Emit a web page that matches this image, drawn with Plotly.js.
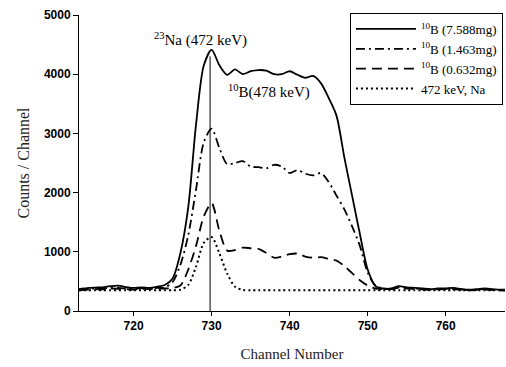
<!DOCTYPE html>
<html>
<head>
<meta charset="utf-8">
<script src="https://cdn.plot.ly/plotly-3.0.1.min.js"></script>
<style>html,body{margin:0;padding:0;background:#fff;}#chart{width:506px;height:367px;}</style>
</head>
<body>
<div id="chart"></div>
<script>
const channels = [713,714,715,716,717,718,719,720,721,722,723,724,725,726,727,728,729,730,731,732,733,734,735,736,737,738,739,740,741,742,743,744,745,746,747,748,749,750,751,752,753,754,755,756,757,758,759,760,761,762,763,764,765,766,767,768];
const b7588 = [370,385,395,400,420,430,405,390,400,390,410,440,550,980,1750,3150,4150,4410,4150,3990,4080,4000,4050,4070,4060,4000,4000,4050,3990,3940,3970,3850,3600,3300,2600,1950,1300,700,420,380,380,420,400,390,380,370,380,380,390,370,360,370,380,370,360,360];
const b1463 = [360,370,380,375,395,390,380,370,385,380,390,400,490,780,1280,2050,2850,3080,2750,2480,2500,2530,2440,2430,2410,2470,2440,2330,2380,2320,2290,2330,2180,1950,1720,1430,1100,650,430,380,370,400,390,380,370,360,370,375,380,365,355,360,370,360,350,350];
const b0632 = [350,360,370,365,380,375,370,360,375,370,380,380,390,430,700,1100,1600,1820,1350,1020,1030,1070,1060,1050,980,900,920,960,970,920,900,910,880,850,760,640,520,430,380,370,370,390,380,370,365,360,365,370,370,360,350,355,360,355,350,350];
const na472 = [350,350,350,350,350,350,350,350,350,350,350,350,350,360,440,750,1150,1250,970,630,410,355,350,350,350,350,350,350,350,350,350,350,350,350,350,350,350,350,350,350,350,350,350,350,350,350,350,350,350,350,350,350,350,350,350,350];
const seriesNames = ['<sup>10</sup>B (7.588mg)','<sup>10</sup>B (1.463mg)','<sup>10</sup>B (0.632mg)','472 keV, Na'];
const xTicks = [720,730,740,750,760];
const yTicks = [0,1000,2000,3000,4000,5000];
const naPeakChannel = 729.8;
const naPeakTop = 4300;

const serif = 'Liberation Serif, Times New Roman, serif';
const sans = 'Liberation Sans, Arial, sans-serif';

const traces = [
  {x: channels, y: b7588, name: seriesNames[0], mode:'lines', line:{color:'#000', width:1.8, dash:'solid', shape:'spline', smoothing:0.8}},
  {x: channels, y: b1463, name: seriesNames[1], mode:'lines', line:{color:'#000', width:1.8, dash:'9px,4px,2px,4px', shape:'spline', smoothing:0.8}},
  {x: channels, y: b0632, name: seriesNames[2], mode:'lines', line:{color:'#000', width:1.8, dash:'10px,6px', shape:'spline', smoothing:0.8}},
  {x: channels, y: na472, name: seriesNames[3], mode:'lines', line:{color:'#000', width:2, dash:'2px,3px', shape:'spline', smoothing:0.8}}
];

const layout = {
  width: 506, height: 367,
  margin: {l:79, r:1, t:15, b:56},
  paper_bgcolor:'#fff', plot_bgcolor:'#fff',
  font: {family: serif, size: 13, color:'#000', weight: 400},
  showlegend: true,
  legend: {
    x: 0.636, y: 1.007, xanchor:'left', yanchor:'top',
    bgcolor:'#fff', bordercolor:'#000', borderwidth:1,
    font:{family: serif, size:13, color:'#000', weight:400},
    itemwidth: 60, tracegroupgap: 0
  },
  xaxis: {
    range:[713, 767.6], tickvals: xTicks, ticktext: xTicks.map(String),
    showline:true, linecolor:'#000', linewidth:1, showgrid:false, zeroline:false,
    ticks:'outside', ticklen:4, tickcolor:'#000',
    tickfont:{family: sans, size:12, color:'#000', weight:'bold'},
    title:{text:'Channel Number', font:{family: serif, size:15, color:'#222', weight:400}, standoff:16}
  },
  yaxis: {
    range:[0,5000], tickvals: yTicks, ticktext: yTicks.map(String),
    showline:true, linecolor:'#000', linewidth:1, showgrid:false, zeroline:false,
    ticks:'outside', ticklen:5, tickcolor:'#000',
    tickfont:{family: sans, size:12, color:'#000', weight:'bold'},
    title:{text:'Counts / Channel', font:{family: serif, size:16, color:'#222', weight:400}, standoff:10}
  },
  shapes: [
    {type:'line', xref:'x', yref:'y', x0:naPeakChannel, x1:naPeakChannel, y0:0, y1:naPeakTop, line:{color:'#000', width:1}}
  ],
  annotations: [
    {xref:'x', yref:'y', x:728.6, y:4580, text:'<sup>23</sup>Na (472 keV)', showarrow:false, font:{family: serif, size:15, color:'#000', weight:400}},
    {xref:'x', yref:'y', x:737.4, y:3700, text:'<sup>10</sup>B(478 keV)', showarrow:false, font:{family: serif, size:15, color:'#000', weight:400}}
  ]
};

Plotly.newPlot('chart', traces, layout, {displayModeBar:false, staticPlot:true});
</script>
</body>
</html>
